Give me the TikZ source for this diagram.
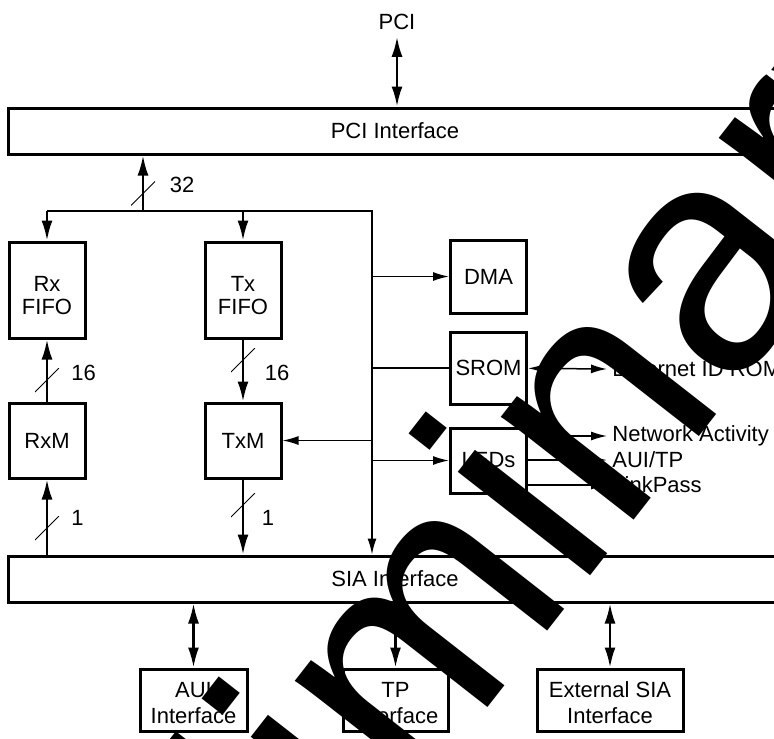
\documentclass[tikz,border=0pt]{standalone}
\usepackage{fontspec}
\setmainfont{Liberation Sans}
\usetikzlibrary{positioning,arrows.meta}

% extra room above pushes two-line box text down
\newcommand{\boxtext}[2]{\raisebox{0pt}[\dimexpr\height+#1\relax]{\begin{tabular}{@{}c@{}}#2\end{tabular}}}

\tikzset{
  blk/.style={draw,line width=1.5pt,align=center,inner sep=0pt},
  bar/.style={blk,minimum width=387pt,minimum height=23pt},
  unit/.style={blk,minimum width=38pt,minimum height=#1},
  wire/.style={line width=1.2pt},
  fine/.style={line width=.75pt},
  arr/.style={wire,-{Latex[length=10pt,width=5.5pt]}},
  dblarr/.style={wire,{Latex[length=10pt,width=5.5pt]}-{Latex[length=10pt,width=5.5pt]}},
  thinarr/.style={fine,-{Latex[length=8pt,width=4.5pt]}},
  thindbl/.style={fine,{Latex[length=8pt,width=4.5pt]}-{Latex[length=8pt,width=4.5pt]}},
  busslash/.style={minimum size=12pt,inner sep=0pt,
    path picture={\draw[line width=.5pt] (path picture bounding box.south west) -- (path picture bounding box.north east);}},
  wlab/.style={inner sep=0pt},
  sig/.style={anchor=west,inner sep=2.5pt}
}

\begin{document}
\begin{tikzpicture}[x=0.5pt,y=-0.5pt,font=\fontsize{11}{13}\selectfont]
  \useasboundingbox (0,0) rectangle (774,738);
  \clip (0,0) rectangle (774,738);

  % interfaces
  \node (pcitxt) at (397,22) {PCI};
  \node[bar] (pciif) at (395,131) {PCI Interface};
  \node[bar] (sia) at (395,579) {SIA Interface};

  % fifos and machines
  \node[unit=48pt] (rxfifo) at (47,290) {\boxtext{8pt}{Rx\\[-1.5pt]FIFO}};
  \node[unit=48pt] (txfifo) at (243,290) {\boxtext{8pt}{Tx\\[-1.5pt]FIFO}};
  \node[unit=37.5pt] (rxm) at (47,440.5) {RxM};
  \node[unit=37.5pt] (txm) at (243,440.5) {TxM};

  \node[unit=36.5pt] (dma) at (488.5,276.5) {DMA};
  \node[unit=36pt] (srom) at (488.5,368) {SROM};
  \node[unit=32.5pt] (leds) at (488.5,460.5) {LEDs};

  \node[blk,minimum width=53.5pt,minimum height=29pt] (aui) at (193.5,700) {\boxtext{5pt}{AUI\\Interface}};
  \node[blk,minimum width=52.5pt,minimum height=29pt] (tp) at (395.5,700) {\boxtext{5pt}{TP\\Interface}};
  \node[blk,minimum width=73pt,minimum height=29pt] (ext) at (610,700) {\boxtext{5pt}{External SIA\\Interface}};

  \node[sig] (romtxt) at (607,369) {Ethernet ID ROM};
  \node[sig] (acttxt) at (607,436) {Network Activity};
  \node[sig] (auitptxt) at (607,460) {AUI/TP};
  \node[sig] (linktxt) at (607,485) {LinkPass};

  % internal bus
  \coordinate (tap) at (143,211);
  \coordinate (rbus) at (372,211);
  \draw[arr] (tap) -- (tap |- pciif.south);
  \draw[wire] (rxfifo.north |- tap) -- (txfifo.north |- tap);
  \draw[arr] (rxfifo.north |- tap) -- (rxfifo.north);
  \draw[arr] (txfifo.north |- tap) -- (txfifo.north);
  \draw[thinarr] (txfifo.north |- tap) -- (rbus) -- (rbus |- sia.north);
  \draw[thinarr] (rbus |- dma) -- (dma);
  \draw[fine] (rbus |- srom) -- (srom);
  \draw[thinarr] (rbus |- txm) -- (txm);
  \draw[thinarr] (rbus |- leds) -- (leds);

  \draw[arr] (rxm) -- (rxfifo);
  \draw[arr] (txfifo) -- (txm);
  \draw[arr] (rxm.south |- sia.north) -- (rxm);
  \draw[arr] (txm) -- (txm.south |- sia.north);

  % bus widths
  \node[busslash] (w32) at (143,193.5) {};
  \node[wlab,right=7pt of w32,yshift=4.25pt] {32};
  \node[busslash] (wrx16) at (47,380) {};
  \node[wlab,right=5.75pt of wrx16,yshift=3.75pt] {16};
  \node[busslash] (wtx16) at (243,360) {};
  \node[wlab,right=4.5pt of wtx16,yshift=-6.5pt] {16};
  \node[busslash] (wrx1) at (47,528) {};
  \node[wlab,right=5.75pt of wrx1,yshift=5.25pt] {1};
  \node[busslash] (wtx1) at (243,505) {};
  \node[wlab,right=3pt of wtx1,yshift=-6.25pt] {1};

  % outside world
  \draw[dblarr] (pcitxt) -- (pcitxt |- pciif.north);
  \draw[dblarr] (aui.north |- sia.south) -- (aui);
  \draw[dblarr] (tp.north |- sia.south) -- (tp);
  \draw[dblarr] (ext.north |- sia.south) -- (ext);
  \draw[thindbl] (srom) -- (romtxt.west);
  \draw[thinarr] (leds.east |- acttxt) -- (acttxt.west);
  \draw[thinarr] (leds.east |- auitptxt) -- (auitptxt.west);
  \draw[thinarr] (leds.east |- linktxt) -- (linktxt.west);

  % watermark
  \node[rotate=52,anchor=base,inner sep=0pt,font=\fontsize{159}{160}\selectfont] (wmark) at (512,676) {Preliminary};
\end{tikzpicture}
\end{document}
